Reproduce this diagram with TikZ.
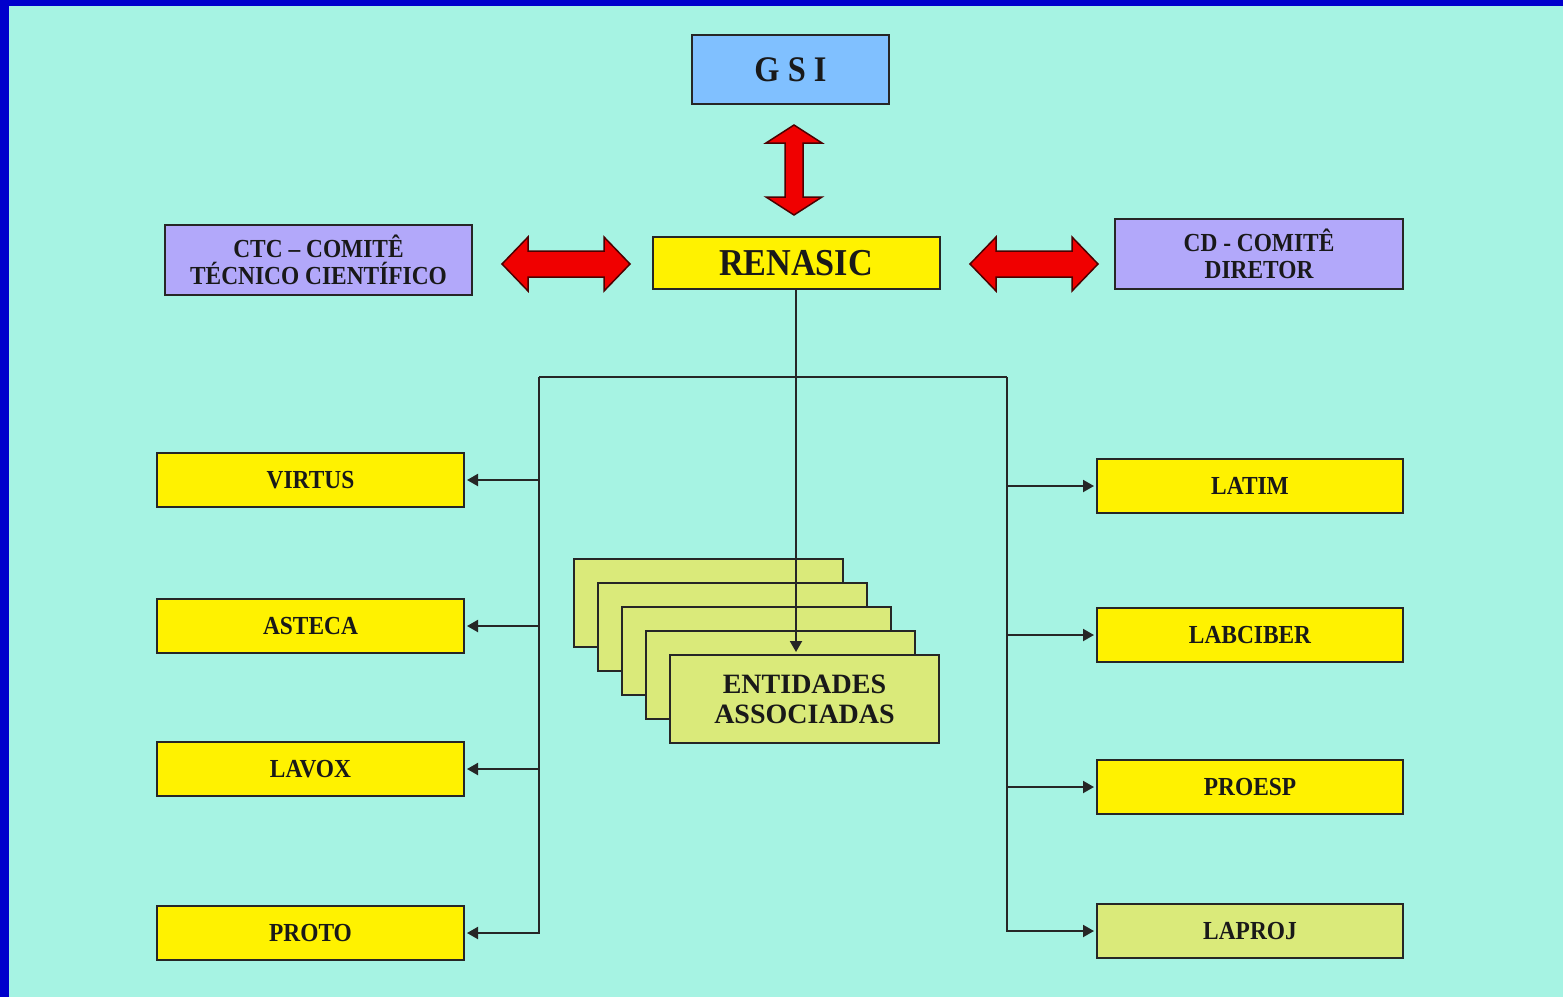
\documentclass[tikz,border=0pt]{standalone}
\usepackage{fontspec}
\setmainfont{Liberation Serif}
\newfontfamily\boxfont{Liberation Serif}[FakeStretch=0.9]
\usetikzlibrary{calc,arrows.meta}
\definecolor{bgcyan}{RGB}{166,243,227}
\definecolor{edgeblue}{RGB}{0,0,204}
\definecolor{gsiblue}{RGB}{128,192,255}
\definecolor{lilac}{RGB}{178,168,250}
\definecolor{palegreen}{RGB}{218,234,122}
\definecolor{arrowred}{RGB}{240,0,0}
\tikzset{
	box/.style={draw=black!85, line width=2pt, inner sep=0pt, align=center, text=black!90},
	ybox/.style={box, fill=yellow, minimum width=307pt, minimum height=54pt, font=\boxfont\fontsize{26}{28}\selectfont\bfseries},
	lbox/.style={box, fill=lilac, minimum height=70pt, font=\boxfont\fontsize{26}{27}\selectfont\bfseries},
	entbox/.style={box, fill=palegreen, minimum width=269pt, minimum height=88pt},
	conn/.style={line width=2pt, color=black!85, -{Triangle[length=11pt,width=12pt]}, shorten >=2pt},
	bus/.style={line width=2pt, color=black!85},
	redarrow/.style={fill=arrowred, draw=black!70!red, line width=1.5pt, line join=miter}
}
\def\hdoublearrow(#1){\draw[redarrow, shift={(#1)}] (-64,0) -- (-38,-27) -- (-38,-13) -- (38,-13) -- (38,-27) -- (64,0) -- (38,27) -- (38,13) -- (-38,13) -- (-38,27) -- cycle;}
\def\vdoublearrow(#1){\draw[redarrow, shift={(#1)}] (0,-45) -- (28,-27) -- (9,-27) -- (9,27) -- (28,27) -- (0,45) -- (-28,27) -- (-9,27) -- (-9,-27) -- (-28,-27) -- cycle;}

\begin{document}
\begin{tikzpicture}[x=1pt, y=-1pt]
		%%%%% START %%%%%
		
		\fill[bgcyan] (0, 0) rectangle (1563, 997);
		\fill[edgeblue] (0, 0) rectangle (9, 997);
		\fill[edgeblue] (0, 0) rectangle (1563, 6);
		\useasboundingbox (0, 0) rectangle (1563, 997);
		
		\node[box, fill=gsiblue, minimum width=197pt, minimum height=69pt, font=\boxfont\fontsize{36}{38}\selectfont\bfseries] (gsi) at (790.5, 69.5) {G S I};
		\node[box, fill=yellow, minimum width=287pt, minimum height=52pt, font=\boxfont\fontsize{38}{40}\selectfont\bfseries] (renasic) at (796, 263) {RENASIC};
		
		\node[lbox, minimum width=307pt] (ctc) at (318.5, 260) {CTC – COMITÊ\\TÉCNICO CIENTÍFICO};
		\node[lbox, minimum width=288pt] (cd) at (1259, 254) {CD - COMITÊ\\DIRETOR};
		
		\vdoublearrow(794, 170)
		\hdoublearrow(566, 264)
		\hdoublearrow(1034, 264)
		
		\foreach \name/\txt/\y in {virtus/VIRTUS/480, asteca/ASTECA/626, lavox/LAVOX/769, proto/PROTO/933}
			\node[ybox] (\name) at (310.5, \y) {\txt};
		\foreach \name/\txt/\y in {latim/LATIM/486, labciber/LABCIBER/635, proesp/PROESP/787}
			\node[ybox, minimum width=306pt] (\name) at (1250, \y) {\txt};
		\node[ybox, minimum width=306pt, fill=palegreen] (laproj) at (1250, 931) {LAPROJ};
		
		% entidades stack
		\foreach \i in {0,...,3}
			\node[entbox] (ent\i) at (708.5+24*\i, 603+24*\i) {};
		\node[entbox, font=\fontsize{28}{30}\selectfont\bfseries] (ent4) at (804.5, 699) {ENTIDADES\\ASSOCIADAS};
		
		\coordinate (lbus) at (539, 377);
		\coordinate (rbus) at (1007, 377);
		\draw[bus] (lbus) -- (rbus);
		\draw[conn] (lbus) |- (proto.east);
		\draw[conn] (rbus) |- (laproj.west);
		\foreach \name in {virtus, asteca, lavox}
			\draw[conn] (lbus |- \name.east) -- (\name.east);
		\foreach \name in {latim, labciber, proesp}
			\draw[conn] (rbus |- \name.west) -- (\name.west);
		
		\draw[conn] (renasic.south) -- (renasic.south |- ent4.north);
		
		%%%%% END %%%%%
\end{tikzpicture}
\end{document}
